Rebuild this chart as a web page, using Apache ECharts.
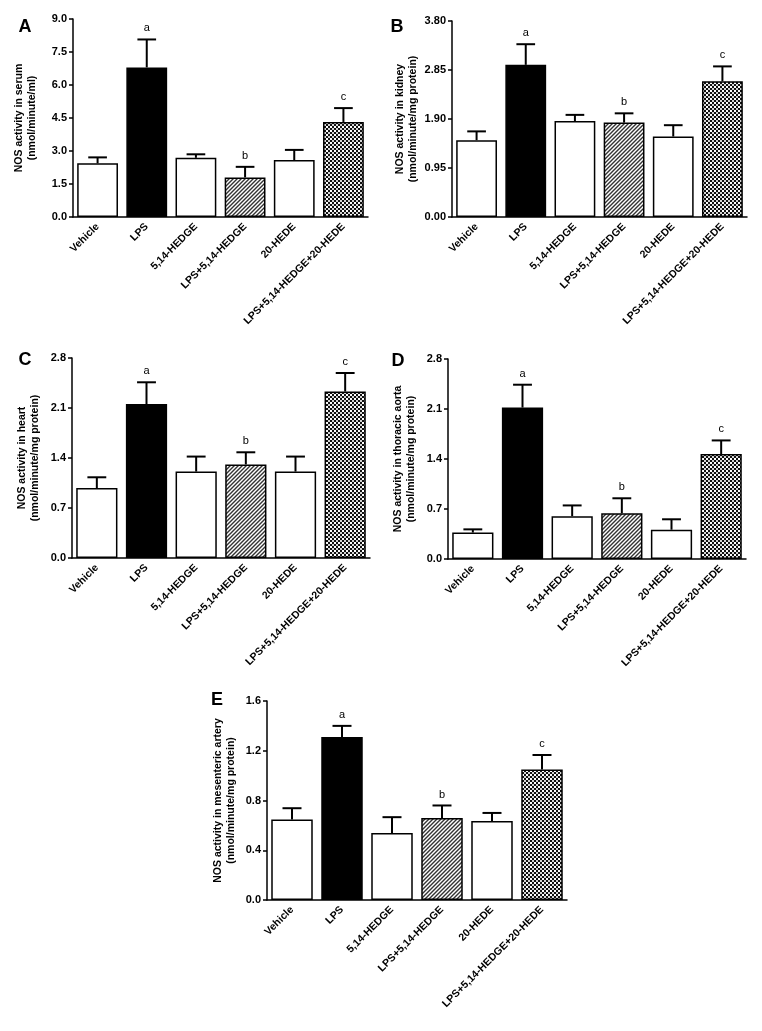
<!DOCTYPE html>
<html>
<head>
<meta charset="utf-8">
<script src="https://cdn.jsdelivr.net/npm/echarts@6/dist/echarts.min.js"></script>
<style>
html,body{margin:0;padding:0;background:#fff;}
#chart{width:762px;height:1031px;}
</style>
</head>
<body>
<div id="chart"></div>
<script>
// ---- data ----
const categories = ['Vehicle', 'LPS', '5,14-HEDGE', 'LPS+5,14-HEDGE', '20-HEDE', 'LPS+5,14-HEDGE+20-HEDE'];
const sigLetters = ['', 'a', '', 'b', '', 'c'];

const serumMean  = [2.44, 6.80, 2.69, 1.80, 2.59, 4.32];
const serumSem   = [0.27, 1.27, 0.16, 0.48, 0.46, 0.63];
const serumTicks = { max: 9.0, interval: 1.5, decimals: 1 };

const kidneyMean  = [1.49, 2.95, 1.86, 1.83, 1.56, 2.63];
const kidneySem   = [0.17, 0.40, 0.12, 0.18, 0.22, 0.29];
const kidneyTicks = { max: 3.80, interval: 0.95, decimals: 2 };

const heartMean  = [0.98, 2.155, 1.21, 1.31, 1.21, 2.33];
const heartSem   = [0.15, 0.305, 0.21, 0.17, 0.21, 0.26];
const heartTicks = { max: 2.8, interval: 0.7, decimals: 1 };

const aortaMean  = [0.37, 2.12, 0.60, 0.64, 0.41, 1.47];
const aortaSem   = [0.045, 0.32, 0.15, 0.21, 0.146, 0.19];
const aortaTicks = { max: 2.8, interval: 0.7, decimals: 1 };

const mesMean  = [0.648, 1.31, 0.538, 0.66, 0.636, 1.05];
const mesSem   = [0.09, 0.09, 0.128, 0.10, 0.064, 0.116];
const mesTicks = { max: 1.6, interval: 0.4, decimals: 1 };

// ---- patterns ----
function hatchPattern() {
  const c = document.createElement('canvas');
  c.width = 4; c.height = 4;
  const g = c.getContext('2d');
  g.fillStyle = '#fff'; g.fillRect(0, 0, 4, 4);
  g.strokeStyle = '#333'; g.lineWidth = 1.4;
  g.beginPath();
  g.moveTo(-1, 1); g.lineTo(1, -1);
  g.moveTo(0, 4); g.lineTo(4, 0);
  g.moveTo(3, 5); g.lineTo(5, 3);
  g.stroke();
  return { image: c, repeat: 'repeat' };
}
function crossPattern() {
  const c = document.createElement('canvas');
  c.width = 4; c.height = 4;
  const g = c.getContext('2d');
  g.fillStyle = '#111'; g.fillRect(0, 0, 4, 4);
  g.fillStyle = '#fff';
  g.fillRect(0, 0, 2, 2);
  g.fillRect(2, 2, 2, 2);
  g.fillStyle = '#555';
  g.fillRect(0.5, 0.5, 1, 1);
  return { image: c, repeat: 'repeat' };
}
const barFills = ['#ffffff', '#000000', '#ffffff', hatchPattern(), '#ffffff', crossPattern()];

// ---- panels (layout) ----
const FONT = "'Liberation Sans', Arial, Helvetica, sans-serif";
const panels = [
  { letter: 'A', lx: 25,  ly: 27,  name: 'NOS activity in serum\n(nmol/minute/ml)', mean: serumMean, sem: serumSem, ticks: serumTicks,
    grid: { left: 73, top: 19, width: 295, height: 198 }, nameGap: 34 },
  { letter: 'B', lx: 397, ly: 27,  name: 'NOS activity in kidney\n(nmol/minute/mg protein)', mean: kidneyMean, sem: kidneySem, ticks: kidneyTicks,
    grid: { left: 452, top: 21, width: 295, height: 196 }, nameGap: 32 },
  { letter: 'C', lx: 25,  ly: 360, name: 'NOS activity in heart\n(nmol/minute/mg protein)', mean: heartMean, sem: heartSem, ticks: heartTicks,
    grid: { left: 72, top: 358, width: 298, height: 200 }, nameGap: 30 },
  { letter: 'D', lx: 398, ly: 361, name: 'NOS activity in thoracic aorta\n(nmol/minute/mg protein)', mean: aortaMean, sem: aortaSem, ticks: aortaTicks,
    grid: { left: 448, top: 359, width: 298, height: 200 }, nameGap: 30 },
  { letter: 'E', lx: 217, ly: 700, name: 'NOS activity in mesenteric artery\n(nmol/minute/mg protein)', mean: mesMean, sem: mesSem, ticks: mesTicks,
    grid: { left: 267, top: 701, width: 300, height: 199 }, nameGap: 29 }
];

const grids = [], xAxes = [], yAxes = [], series = [], graphics = [];
panels.forEach((p, i) => {
  grids.push(Object.assign({ containLabel: false, outerBoundsMode: 'none' }, p.grid));
  xAxes.push({
    type: 'category', gridIndex: i, data: categories,
    axisLine: { lineStyle: { color: '#000', width: 1.5 } },
    axisTick: { alignWithLabel: true, length: 4, lineStyle: { color: '#000', width: 1.5 } },
    axisLabel: { rotate: 45, margin: 8, interval: 0, color: '#000', fontFamily: FONT, fontWeight: 'bold', fontSize: 10.5 },
    splitLine: { show: false }
  });
  yAxes.push({
    type: 'value', gridIndex: i, min: 0, max: p.ticks.max, interval: p.ticks.interval,
    name: p.name, nameLocation: 'middle', nameGap: p.nameGap,
    nameTextStyle: { color: '#000', fontFamily: FONT, fontWeight: 'bold', fontSize: 10.5, lineHeight: 13, align: 'center' },
    axisLine: { show: true, lineStyle: { color: '#000', width: 1.5 } },
    axisTick: { show: true, length: 4, lineStyle: { color: '#000', width: 1.5 } },
    axisLabel: { margin: 6, color: '#000', fontFamily: FONT, fontWeight: 'bold', fontSize: 11,
      formatter: v => v.toFixed(p.ticks.decimals) },
    splitLine: { show: false }
  });
  series.push({
    type: 'bar', xAxisIndex: i, yAxisIndex: i, barCategoryGap: '17%',
    data: p.mean.map((v, k) => ({ value: v, itemStyle: { color: barFills[k] } })),
    itemStyle: { borderColor: '#000', borderWidth: 1.5 },
    emphasis: { disabled: true }, animation: false, z: 2
  });
  series.push({
    type: 'custom', xAxisIndex: i, yAxisIndex: i, z: 3, animation: false,
    data: p.mean.map((v, k) => [k, v, v + p.sem[k], sigLetters[k]]),
    renderItem: function (params, api) {
      const k = api.value(0);
      const base = api.coord([k, api.value(1)]);
      const top = api.coord([k, api.value(2)]);
      const band = api.size([1, 0])[0];
      const half = band * 0.19;
      const children = [
        { type: 'line', shape: { x1: base[0], y1: base[1], x2: top[0], y2: top[1] }, style: { stroke: '#000', lineWidth: 2 } },
        { type: 'line', shape: { x1: top[0] - half, y1: top[1], x2: top[0] + half, y2: top[1] }, style: { stroke: '#000', lineWidth: 2 } }
      ];
      const letter = sigLetters[k];
      if (letter) {
        children.push({ type: 'text', x: top[0], y: top[1] - 11,
          style: { text: letter, align: 'center', verticalAlign: 'middle', fill: '#000', font: 'normal 11px ' + FONT } });
      }
      return { type: 'group', children: children };
    }
  });
  graphics.push({ type: 'text', x: p.lx, y: p.ly, style: { text: p.letter, fill: '#000', font: 'bold 18px ' + FONT, align: 'center', verticalAlign: 'middle' } });
});

const chart = echarts.init(document.getElementById('chart'), null, { renderer: 'canvas' });
chart.setOption({
  backgroundColor: '#fff',
  animation: false,
  grid: grids, xAxis: xAxes, yAxis: yAxes, series: series,
  graphic: graphics
});
</script>
</body>
</html>
